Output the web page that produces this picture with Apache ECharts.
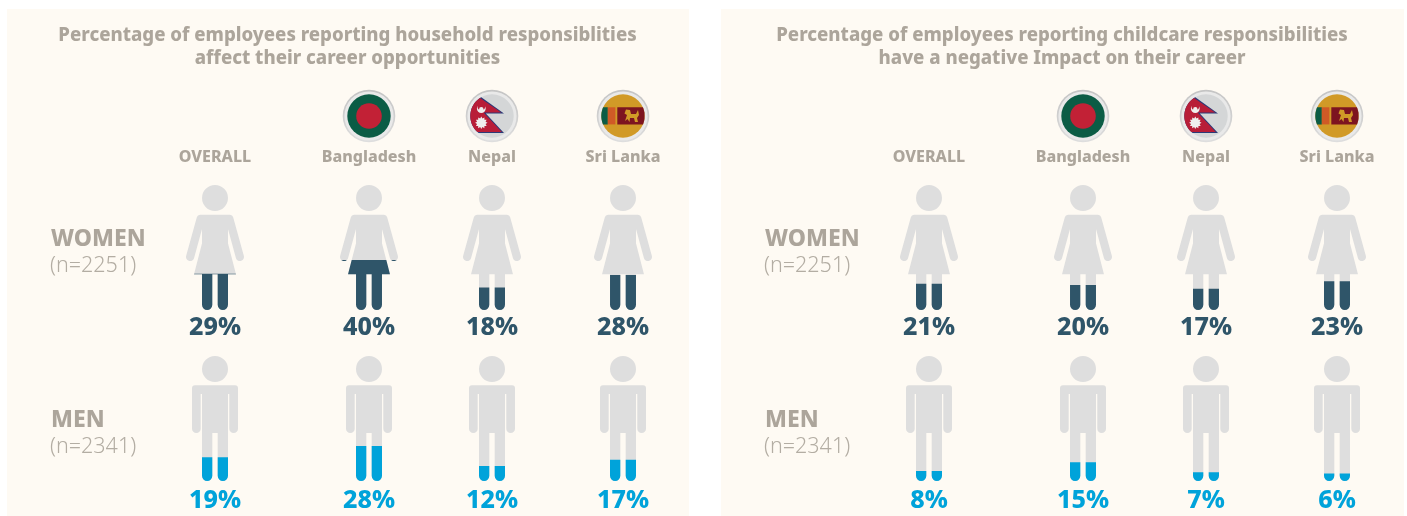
<!DOCTYPE html>
<html>
<head>
<meta charset="utf-8">
<style>html,body{margin:0;padding:0;background:#fff}#c{width:1407px;height:516px}</style>
<script src="https://cdn.jsdelivr.net/npm/echarts@6/dist/echarts.min.js"></script>
</head>
<body>
<div id="c"></div>
<script>
// Survey figures, per cent of respondents
const countries = ['OVERALL', 'Bangladesh', 'Nepal', 'Sri Lanka'];
const householdWomen = [29, 40, 18, 28];
const householdMen = [19, 28, 12, 17];
const childcareWomen = [21, 20, 17, 23];
const childcareMen = [8, 15, 7, 6];
const householdTitle = 'Percentage of employees reporting household responsiblities\naffect their career opportunities';
const childcareTitle = 'Percentage of employees reporting childcare responsibilities\nhave a negative Impact on their career';
const womenLabel = ['WOMEN', '(n=2251)'];
const menLabel = ['MEN', '(n=2341)'];

// Pictograms: outlines in a 58x125 and a 46x125 box
const womanPath = 'path://M16 13A13 13 0 1 1 42 13A13 13 0 1 1 16 13Z' +
  'M14 29.7H44A3.4 3.4 0 0 1 47.2 32.2L57.8 70.6A4.1 4.1 0 0 1 50 73.4L42 44V58.3L50 89.3H42V120A5.15 5.15 0 0 1 31.7 120V89.3H26.3V120A5.15 5.15 0 0 1 16 120V89.3H8L16 58.3V44L8 73.4A4.1 4.1 0 0 1 0.2 70.6L10.8 32.2A3.4 3.4 0 0 1 14 29.7Z';
const manPath = 'path://M10 13A13 13 0 1 1 36 13A13 13 0 1 1 10 13Z' +
  'M3 29.3H43A3 3 0 0 1 46 32.3V72.7A4.35 4.35 0 0 1 37.3 72.7V38H36V119.85A5.15 5.15 0 0 1 25.7 119.85V77H20.3V119.85A5.15 5.15 0 0 1 10 119.85V38H8.7V72.7A4.35 4.35 0 0 1 0 72.7V32.3A3 3 0 0 1 3 29.3Z';

const GREY = '#dedede', TEXT = '#aca59b', NAVY = '#2f5569', BLUE = '#00a3da';
const FONT = '"Noto Sans", sans-serif';

const columnX = [215, 369, 492, 623];
const panelShift = [0, 714];
const panelCenter = [347.5, 1062];
const rows = [
  {top: 185, path: womanPath, w: 58, color: NAVY, labelGap: 5.5},
  {top: 356, path: manPath, w: 46, color: BLUE, labelGap: 7}
];
const panelData = [[householdWomen, householdMen], [childcareWomen, childcareMen]];

const grid = [], xAxis = [], yAxis = [], series = [];
panelData.forEach((rowsData, p) => {
  rowsData.forEach((values, r) => {
    values.forEach((v, c) => {
      const i = grid.length, row = rows[r];
      grid.push({left: columnX[c] + panelShift[p] - 50, width: 100, top: row.top, height: 125});
      xAxis.push({
        gridIndex: i, type: 'category', data: [countries[c]], position: 'top',
        axisLine: {show: false}, axisTick: {show: false},
        axisLabel: {show: r === 0, interval: 0, margin: 20, color: TEXT, fontFamily: FONT, fontWeight: 800, fontSize: 16}
      });
      yAxis.push({gridIndex: i, type: 'value', min: 0, max: 100, show: false});
      // full grey body
      series.push({
        type: 'pictorialBar', xAxisIndex: i, yAxisIndex: i, silent: true, z: 2,
        symbol: row.path, symbolSize: [row.w, 125], symbolPosition: 'start',
        symbolBoundingData: 100, itemStyle: {color: GREY}, data: [100]
      });
      // reported share fills the body from the feet up
      series.push({
        type: 'pictorialBar', xAxisIndex: i, yAxisIndex: i, silent: true, z: 3,
        symbol: row.path, symbolSize: [row.w, 125], symbolPosition: 'start',
        symbolClip: true, symbolBoundingData: 100, itemStyle: {color: row.color},
        label: {
          show: true, position: 'bottom', distance: row.labelGap, formatter: '{c}%', color: row.color,
          fontFamily: FONT, fontWeight: 800, fontSize: 25
        },
        data: [v]
      });
    });
  });
});

// Flag badges
function circlePts(cx, cy, rad) {
  const pts = [];
  for (let k = 0; k < 72; k++) {
    const a = k / 72 * Math.PI * 2;
    pts.push([cx + rad * Math.cos(a), cy + rad * Math.sin(a)]);
  }
  return pts;
}
// Sutherland-Hodgman clip of a polygon against the flag's disc
function clipDisc(subject, cx, cy, rad) {
  const clip = circlePts(cx, cy, rad);
  let out = subject;
  for (let i = 0; i < clip.length; i++) {
    const A = clip[i], B = clip[(i + 1) % clip.length];
    const inside = P => (B[0] - A[0]) * (P[1] - A[1]) - (B[1] - A[1]) * (P[0] - A[0]) >= 0;
    const cross = (P, Q) => {
      const d1 = (B[0] - A[0]) * (P[1] - A[1]) - (B[1] - A[1]) * (P[0] - A[0]);
      const d2 = (B[0] - A[0]) * (Q[1] - A[1]) - (B[1] - A[1]) * (Q[0] - A[0]);
      const t = d1 / (d1 - d2);
      return [P[0] + t * (Q[0] - P[0]), P[1] + t * (Q[1] - P[1])];
    };
    const input = out; out = [];
    for (let j = 0; j < input.length; j++) {
      const P = input[j], Q = input[(j + 1) % input.length];
      const pi = inside(P), qi = inside(Q);
      if (pi) out.push(P);
      if (pi !== qi) out.push(cross(P, Q));
    }
    if (!out.length) break;
  }
  return out;
}
const RING = {type: 'linear', x: 0, y: 0, x2: 0, y2: 1, colorStops: [{offset: 0, color: '#c4c4c4'}, {offset: 0.5, color: '#cfcfcf'}, {offset: 1, color: '#dedede'}]};
const graphics = [];
function poly(points, fill, z) {
  graphics.push({type: 'polygon', shape: {points}, style: {fill}, z: z || 6, silent: true});
}
function disc(cx, cy, rad, fill, z) {
  graphics.push({type: 'circle', shape: {cx, cy, r: rad}, style: {fill}, z: z || 5, silent: true});
}
function badge(cx, cy) {
  disc(cx, cy, 26.3, RING);
  disc(cx, cy, 24.6, '#e9e9e9');
}
function bangladesh(cx, cy) {
  badge(cx, cy);
  disc(cx, cy, 21.7, '#0b5c45', 6);
  disc(cx, cy, 12.8, '#c22136', 7);
}
function nepal(cx, cy) {
  badge(cx, cy);
  const R = 21.7, RED = '#b81d38';
  disc(cx, cy, R, '#d4d6d7', 6);
  const rel = pts => pts.map(q => [cx + q[0], cy + q[1]]);
  const border = rel([[-12.3, -20], [12, -2.6], [-6.2, -2.6], [12, 17], [-24, 17], [-24, -20]]);
  const red = rel([[-12.6, -18.5], [9.2, -3.6], [-8.4, -3.6], [9.8, 16], [-24, 16], [-24, -18.5]]);
  poly(clipDisc(border, cx, cy, R), '#2b3a78', 6);
  poly(clipDisc(red, cx, cy, R), RED, 7);
  // sun
  const sun = [], sx = cx - 10.7, sy = cy + 6.8;
  for (let k = 0; k < 24; k++) {
    const a = k / 24 * Math.PI * 2, rr = k % 2 ? 4.4 : 6.2;
    sun.push([sx + rr * Math.cos(a), sy + rr * Math.sin(a)]);
  }
  poly(sun, '#efeeee', 8);
  // crescent moon
  const mx = cx - 10.7, my = cy - 7.4;
  disc(mx, my, 4.4, '#efeeee', 8);
  disc(mx, my - 2.2, 3.8, RED, 9);
  disc(mx, my + 0.6, 2.2, '#efeeee', 10);
}
function sriLanka(cx, cy) {
  badge(cx, cy);
  const R = 21.7, GOLD = '#d19a27';
  disc(cx, cy, R, GOLD, 6);
  const rect = (x0, y0, x1, y1) => clipDisc([[cx + x0, cy + y0], [cx + x1, cy + y0], [cx + x1, cy + y1], [cx + x0, cy + y1]], cx, cy, R);
  poly(rect(-24, -8.7, -15.2, 8.4), '#0b5c45', 7);
  poly(rect(-15.2, -8.7, -7.6, 8.4), '#d05a26', 7);
  poly(rect(-5.7, -8.7, 21.5, 8.4), '#7d1420', 7);
  // lion
  poly([[cx + 2, cy + 5], [cx + 4, cy - 1], [cx + 1.5, cy - 2.5], [cx + 3, cy - 6.5], [cx + 7, cy - 6], [cx + 8, cy - 2],
    [cx + 13, cy - 2], [cx + 15, cy - 6], [cx + 16, cy - 1], [cx + 14, cy + 2], [cx + 15, cy + 6], [cx + 12, cy + 6], [cx + 11, cy + 2], [cx + 7, cy + 2], [cx + 6.5, cy + 6], [cx + 4.5, cy + 3]], GOLD, 8);
}
panelShift.forEach(dx => {
  bangladesh(columnX[1] + dx, 116);
  nepal(columnX[2] + dx, 116);
  sriLanka(columnX[3] + dx, 116);
});

// Cream panels behind each chart
[[7, 682], [721, 683]].forEach(([x, w]) => {
  graphics.push({type: 'rect', shape: {x, y: 9, width: w, height: 507}, style: {fill: '#fefaf3'}, z: -10, silent: true});
});

// Row captions and chart headings
panelShift.forEach((dx, p) => {
  [[womenLabel, 228], [menLabel, 409]].forEach(([label, y]) => {
    graphics.push({type: 'text', x: 51 + dx, y, z: 6, silent: true,
      style: {text: label[0], fill: TEXT, font: '800 23px ' + FONT}});
    graphics.push({type: 'text', x: 50 + dx, y: y + 27, z: 6, silent: true,
      style: {text: label[1], fill: '#b3ada3', font: '300 21.5px ' + FONT}});
  });
  graphics.push({type: 'text', x: panelCenter[p], y: 24, z: 6, silent: true,
    style: {text: p ? childcareTitle : householdTitle, fill: TEXT, font: '800 18.6px ' + FONT, align: 'center', lineHeight: 23}});
});

const chart = echarts.init(document.getElementById('c'), null, {renderer: 'canvas'});
chart.setOption({animation: false, backgroundColor: '#ffffff', grid, xAxis, yAxis, series, graphic: {elements: graphics}});
</script>
</body>
</html>
